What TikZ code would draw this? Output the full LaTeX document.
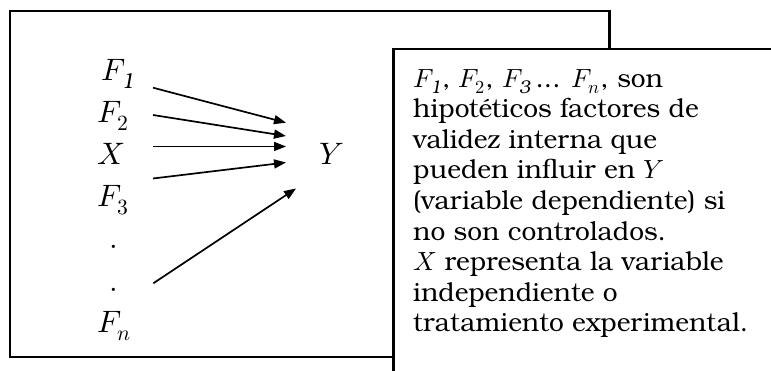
\documentclass[tikz,border=0pt]{standalone}
\usepackage{fontspec}
\usepackage{unicode-math}
\setmainfont{TeX Gyre Bonum}
\setmathfont{Latin Modern Math}
\usetikzlibrary{arrows.meta}
\tikzset{
  frame/.style={draw=black, line width=2.4pt},
  lbl/.style={anchor=base west, inner sep=0pt, font=\fontsize{31}{32}\selectfont},
  arr/.style={line width=1.7pt, -{Triangle[length=12pt,width=9pt]}},
}
\begin{document}
\begin{tikzpicture}[x=1pt,y=-1pt]
\useasboundingbox (0,0) rectangle (771,371);
\clip (0,0) rectangle (771,371);
\fill[white] (0,0) rectangle (771,371);
% left frame
\draw[frame] (10,11) rectangle (609.5,356.7);
% labels
\node[lbl] (f1) at (101,81) {$F_{\textit{1}}$};
\node[lbl] (f2) at (97,123) {$F_2$};
\node[lbl] (x)  at (97,165) {$X$};
\node[lbl] (f3) at (97,207) {$F_3$};
\node[lbl] (d1) at (109,249) {$.$};
\node[lbl] (d2) at (109,291) {$.$};
\node[lbl] (fn) at (97,333) {$F_n$};
\node[lbl] (y)  at (319,165) {$Y$};
% arrow endpoints
\coordinate (s1) at (153,87.7);
\coordinate (s2) at (153,115);
\coordinate (s3) at (153,146.5);
\coordinate (s4) at (153,178.5);
\coordinate (s5) at (153.3,283.3);
\coordinate (e1) at (286,122.7);
\coordinate (e2) at (286,136);
\coordinate (e3) at (286,146.5);
\coordinate (e4) at (286,162.5);
\coordinate (e5) at (296,188.5);
\draw[arr] (s1) -- (e1);
\draw[arr] (s2) -- (e2);
\draw[arr] (s3) -- (e3);
\draw[arr] (s4) -- (e4);
\draw[arr] (s5) -- (e5);
% right frame
\draw[frame, fill=white] (393.3,49) rectangle (800,400);
\node[anchor=north west, inner sep=0pt, align=left,
      font=\fontsize{26.3}{30.6}\selectfont] (txt) at (413,69)
{$F_{\textit{1}}$, $F_2$, $F_{\textit{3}}$\,... $F_n$, son\\
hipotéticos factores de\\
validez interna que\\
pueden influir en $Y$\\
(variable dependiente) si\\
no son controlados.\\
$X$ representa la variable\\
independiente o\\
tratamiento experimental.};
\end{tikzpicture}
\end{document}
